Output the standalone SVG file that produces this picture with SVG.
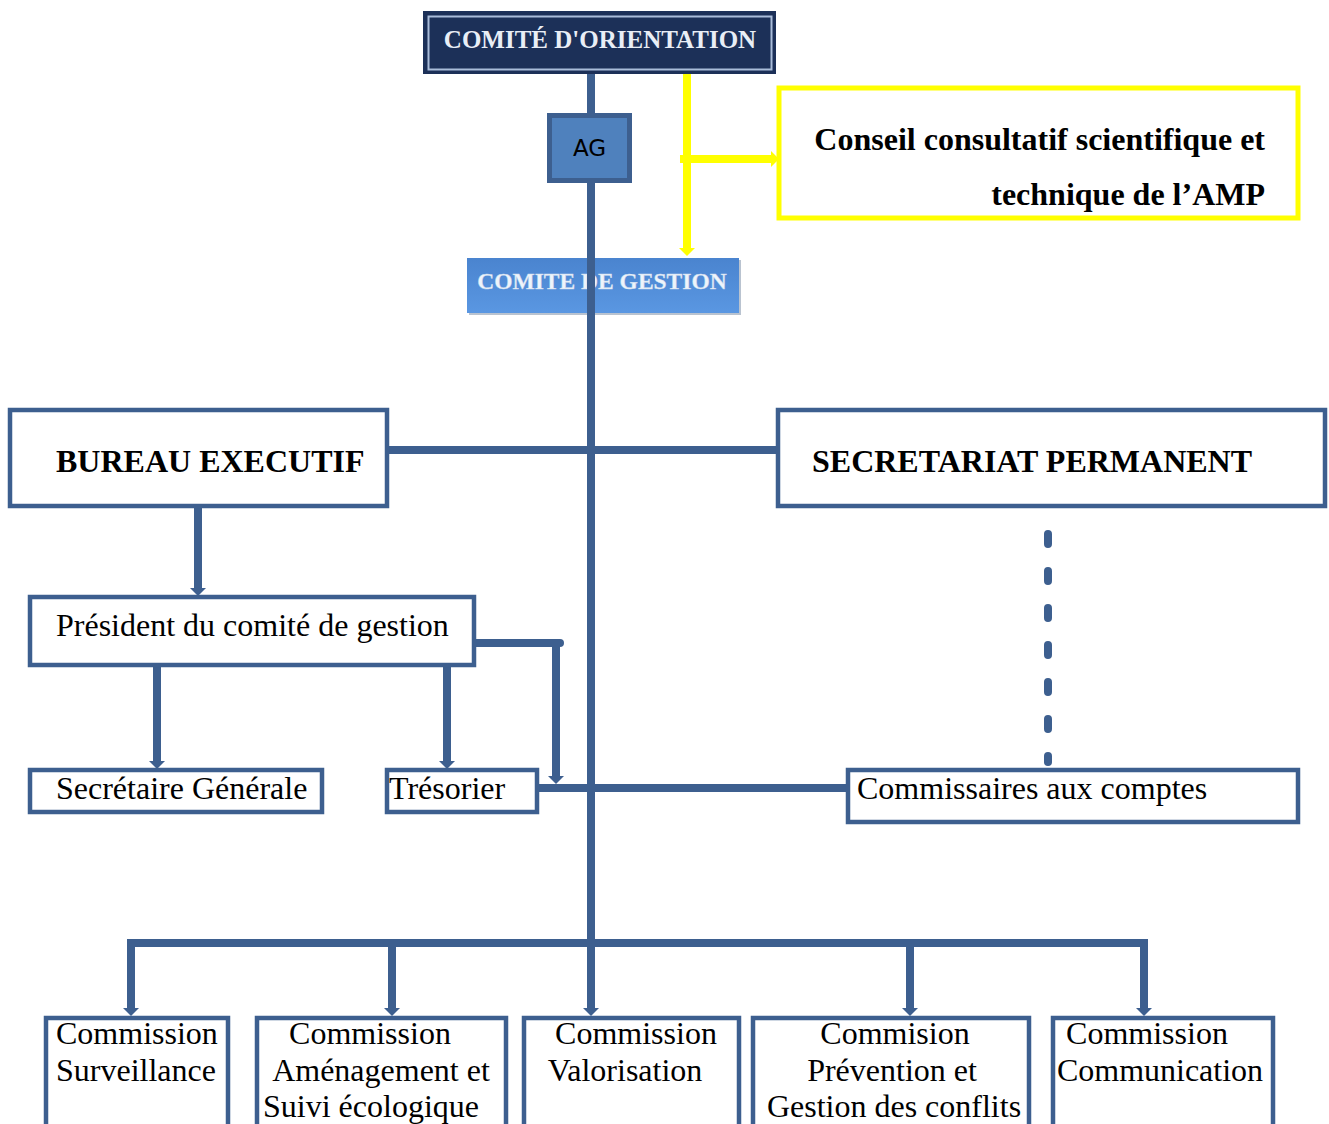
<svg xmlns="http://www.w3.org/2000/svg" width="1329" height="1124" viewBox="0 0 1329 1124">
<style>
.box{fill:#ffffff;stroke:#3d5f8f;stroke-width:4.5}
.t{font-family:"Liberation Serif","Times New Roman",serif;font-size:32px;fill:#000}
.b{font-weight:bold}
.ln{fill:none;stroke:#3d5f8f;stroke-width:8}
.yl{fill:none;stroke:#ffff00;stroke-width:8}
</style>
<defs>
<marker id="ab" viewBox="0 0 8 16" refX="2" refY="8" markerWidth="8" markerHeight="16" markerUnits="userSpaceOnUse" orient="auto">
<path d="M0,0 L8,8 L0,16 z" fill="#3d5f8f"/>
</marker>
<marker id="ay" viewBox="0 0 8 16" refX="2" refY="8" markerWidth="8" markerHeight="16" markerUnits="userSpaceOnUse" orient="auto">
<path d="M0,0 L8,8 L0,16 z" fill="#ffff00"/>
</marker>
<linearGradient id="gg" x1="0" y1="0" x2="0" y2="1">
<stop offset="0" stop-color="#4a84cf"/>
<stop offset="1" stop-color="#5a97e2"/>
</linearGradient>
</defs>
<rect width="1329" height="1124" fill="#ffffff"/>

<g id="comite-gestion">
<rect x="469" y="260" width="272" height="55" fill="#8a9bb0" opacity="0.6"/>
<rect x="467" y="258" width="272" height="55" fill="url(#gg)"/>
<text x="602" y="289" text-anchor="middle" font-family="Liberation Serif, serif" font-weight="bold" font-size="23.5" fill="#eef4fb" stroke="#c9d8ec" stroke-width="0.4">COMITE DE GESTION</text>
</g>

<g id="connectors">
<path class="ln" d="M591,70 V1010" stroke-width="9" marker-end="url(#ab)"/>
<path class="ln" d="M388,450 H777" stroke-width="6"/>
<path class="ln" d="M198,506 V590" marker-end="url(#ab)"/>
<path class="ln" d="M157,666 V763" marker-end="url(#ab)"/>
<path class="ln" d="M447,666 V763" marker-end="url(#ab)"/>
<path class="ln" d="M475,643 H560" stroke-linecap="round"/>
<path class="ln" d="M556,647 V778" marker-end="url(#ab)"/>
<path class="ln" d="M538,788 H850" stroke-width="9"/>
<path class="ln" d="M1048,534 V762" stroke-width="10" stroke-dasharray="10 27" stroke-linecap="round" stroke-linejoin="round"/>
<path class="ln" d="M127,943 H1147"/>
<path class="ln" d="M131,939 V1010" marker-end="url(#ab)"/>
<path class="ln" d="M392,943 V1010" marker-end="url(#ab)"/>
<path class="ln" d="M910,943 V1010" marker-end="url(#ab)"/>
<path class="ln" d="M1144,939 V1010" marker-end="url(#ab)"/>
<path class="yl" d="M687,72 V250" marker-end="url(#ay)"/>
<path class="yl" d="M680,159 H773" marker-end="url(#ay)"/>
</g>

<g id="comite-orientation">
<rect x="423" y="11" width="353" height="63" fill="#1c3058"/>
<rect x="428.5" y="16.5" width="343" height="53" fill="none" stroke="#a9bcd9" stroke-width="2"/>
<text x="600" y="48" text-anchor="middle" font-family="Liberation Serif, serif" font-weight="bold" font-size="25" fill="#e9eef6">COMITÉ D'ORIENTATION</text>
</g>

<g id="ag">
<rect x="549.5" y="115.5" width="80" height="65" fill="#4f81bd" stroke="#3d5f8f" stroke-width="5"/>
<text x="589.5" y="156" text-anchor="middle" font-family="DejaVu Sans, sans-serif" font-size="23" fill="#000">AG</text>
</g>

<g id="conseil">
<rect x="779" y="88" width="519" height="130" fill="#ffffff" stroke="#ffff00" stroke-width="5"/>
<text class="t b" x="1265" y="150" text-anchor="end">Conseil consultatif scientifique et</text>
<text class="t b" x="1265" y="205" text-anchor="end">technique de l’AMP</text>
</g>

<g id="bureau">
<rect class="box" x="10" y="410" width="377" height="96"/>
<text class="t b" x="56" y="472">BUREAU EXECUTIF</text>
</g>

<g id="secretariat">
<rect class="box" x="778" y="410" width="547" height="96"/>
<text class="t b" x="812" y="472">SECRETARIAT PERMANENT</text>
</g>

<g id="president">
<rect class="box" x="30" y="597" width="444" height="68"/>
<text class="t" x="56" y="636">Président du comité de gestion</text>
</g>

<g id="secretaire">
<rect class="box" x="30" y="770" width="292" height="42"/>
<text class="t" x="56" y="799">Secrétaire Générale</text>
</g>

<g id="tresorier">
<rect class="box" x="387" y="770" width="150" height="42"/>
<text class="t" x="389" y="799">Trésorier</text>
</g>

<g id="commissaires">
<rect class="box" x="848" y="770" width="450" height="52"/>
<text class="t" x="857" y="799">Commissaires aux comptes</text>
</g>

<g id="c-surveillance">
<rect class="box" x="46" y="1018" width="182" height="120"/>
<text class="t" x="56" y="1044">Commission</text>
<text class="t" x="56" y="1081">Surveillance</text>
</g>

<g id="c-amenagement">
<rect class="box" x="257" y="1018" width="249" height="120"/>
<text class="t" x="370" y="1044" text-anchor="middle">Commission</text>
<text class="t" x="381" y="1081" text-anchor="middle">Aménagement et</text>
<text class="t" x="371" y="1117" text-anchor="middle">Suivi écologique</text>
</g>

<g id="c-valorisation">
<rect class="box" x="524" y="1018" width="215" height="120"/>
<text class="t" x="636" y="1044" text-anchor="middle">Commission</text>
<text class="t" x="625" y="1081" text-anchor="middle">Valorisation</text>
</g>

<g id="c-prevention">
<rect class="box" x="753" y="1018" width="276" height="120"/>
<text class="t" x="895" y="1044" text-anchor="middle">Commision</text>
<text class="t" x="892" y="1081" text-anchor="middle">Prévention et</text>
<text class="t" x="894" y="1117" text-anchor="middle">Gestion des conflits</text>
</g>

<g id="c-communication">
<rect class="box" x="1053" y="1018" width="220" height="120"/>
<text class="t" x="1147" y="1044" text-anchor="middle">Commission</text>
<text class="t" x="1160" y="1081" text-anchor="middle">Communication</text>
</g>
</svg>
